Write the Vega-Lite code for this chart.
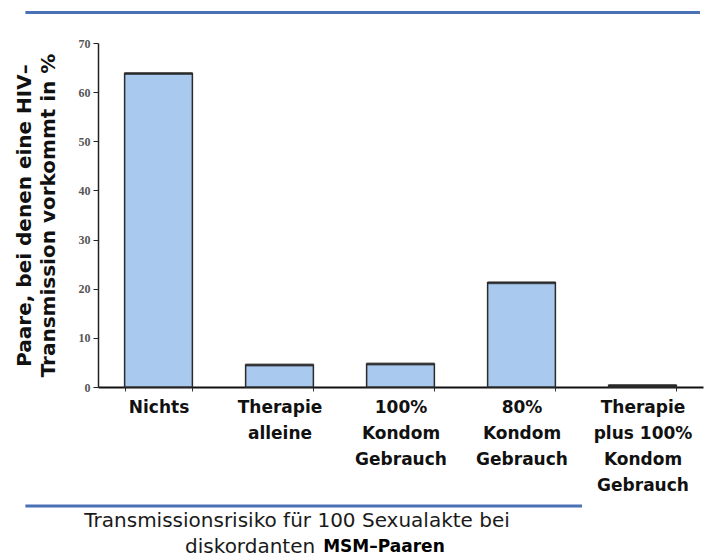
{
  "$schema": "https://vega.github.io/schema/vega-lite/v6.json",
  "width": 605,
  "height": 344,
  "autosize": {"type": "none"},
  "padding": {"left": 98, "top": 43, "right": 7, "bottom": 173},
  "background": "white",
  "config": {"view": {"stroke": null}, "font": "DejaVu Sans"},
  "datasets": {
    "balken": [
      {"massnahme": "Nichts", "anteil": 63.8},
      {"massnahme": "Therapie\nalleine", "anteil": 4.5},
      {"massnahme": "100%\nKondom\nGebrauch", "anteil": 4.7},
      {"massnahme": "80%\nKondom\nGebrauch", "anteil": 21.2},
      {"massnahme": "Therapie\nplus 100%\nKondom\nGebrauch", "anteil": 0.3}
    ]
  },
  "resolve": {"scale": {"x": "independent", "y": "independent"}, "axis": {"x": "independent", "y": "independent"}},
  "layer": [
    {
      "data": {"name": "balken"},
      "mark": {"type": "bar", "fill": "#A9C9EF", "stroke": "#2b2b2b", "strokeWidth": 1.5},
      "encoding": {
        "x": {
          "field": "massnahme", "type": "nominal", "sort": null,
          "scale": {"paddingInner": 0.44, "paddingOuter": 0.22},
          "axis": {
            "title": null, "labelAngle": 0, "labelExpr": "split(datum.label, '\\n')",
            "labelFont": "DejaVu Sans", "labelFontSize": 17, "labelFontWeight": "bold", "labelColor": "#111", "labelLineHeight": 26,
            "labelPadding": 8, "labelBaseline": "top", "tickBand": "extent", "tickSize": 4,
            "tickColor": "#333", "domainColor": "#111", "domainWidth": 2
          }
        },
        "y": {
          "field": "anteil", "type": "quantitative",
          "scale": {"domain": [0, 70], "nice": false},
          "axis": {
            "values": [0, 10, 20, 30, 40, 50, 60, 70], "grid": false,
            "title": ["Paare, bei denen eine HIV–", "Transmission vorkommt in %"],
            "titleFont": "DejaVu Sans", "titleFontSize": 20, "titleFontWeight": "bold", "titleColor": "#111",
            "titleLineHeight": 24, "titlePadding": 20,
            "labelFont": "Liberation Serif", "labelFontSize": 12, "labelFontWeight": "bold", "labelColor": "#555",
            "labelPadding": 3, "tickSize": 5, "tickColor": "#222", "domainColor": "#222", "domainWidth": 1.5
          }
        }
      }
    },
    {
      "data": {"name": "balken"},
      "mark": {"type": "tick", "color": "#2a2a2a", "thickness": 3, "size": 68},
      "encoding": {
        "x": {"field": "massnahme", "type": "nominal", "sort": null, "scale": {"paddingInner": 0.44, "paddingOuter": 0.22}, "axis": null},
        "y": {"field": "anteil", "type": "quantitative", "scale": {"domain": [0, 70], "nice": false}, "axis": null}
      }
    },
    {
      "data": {"values": [{}]},
      "mark": {"type": "rule", "color": "#4A70B6", "strokeWidth": 3},
      "encoding": {
        "x": {"datum": -12, "type": "quantitative", "scale": {"domain": [0, 100], "nice": false}, "axis": null},
        "x2": {"datum": 99.5},
        "y": {"datum": 76.2, "type": "quantitative", "scale": {"domain": [0, 70], "nice": false}, "axis": null}
      }
    },
    {
      "data": {"values": [{}]},
      "mark": {"type": "rule", "color": "#4A70B6", "strokeWidth": 3},
      "encoding": {
        "x": {"datum": -12, "type": "quantitative", "scale": {"domain": [0, 100], "nice": false}, "axis": null},
        "x2": {"datum": 80},
        "y": {"datum": -24.2, "type": "quantitative", "scale": {"domain": [0, 70], "nice": false}, "axis": null}
      }
    },
    {
      "data": {"values": [{}]},
      "mark": {"type": "text", "text": "Transmissionsrisiko für 100 Sexualakte bei", "font": "DejaVu Sans", "fontSize": 20, "color": "#1a1a1a", "align": "center", "baseline": "middle"},
      "encoding": {
        "x": {"datum": 32.9, "type": "quantitative", "scale": {"domain": [0, 100], "nice": false}, "axis": null},
        "y": {"datum": -27.2, "type": "quantitative", "scale": {"domain": [0, 70], "nice": false}, "axis": null}
      }
    },
    {
      "data": {"values": [{}]},
      "mark": {"type": "text", "text": "diskordanten", "font": "DejaVu Sans", "fontSize": 20, "color": "#1a1a1a", "align": "right", "baseline": "middle"},
      "encoding": {
        "x": {"datum": 35.9, "type": "quantitative", "scale": {"domain": [0, 100], "nice": false}, "axis": null},
        "y": {"datum": -32.6, "type": "quantitative", "scale": {"domain": [0, 70], "nice": false}, "axis": null}
      }
    },
    {
      "data": {"values": [{}]},
      "mark": {"type": "text", "text": "MSM–Paaren", "font": "DejaVu Sans", "fontSize": 17, "fontWeight": "bold", "color": "#000", "align": "left", "baseline": "middle", "dx": 8},
      "encoding": {
        "x": {"datum": 35.9, "type": "quantitative", "scale": {"domain": [0, 100], "nice": false}, "axis": null},
        "y": {"datum": -32.6, "type": "quantitative", "scale": {"domain": [0, 70], "nice": false}, "axis": null}
      }
    }
  ]
}
